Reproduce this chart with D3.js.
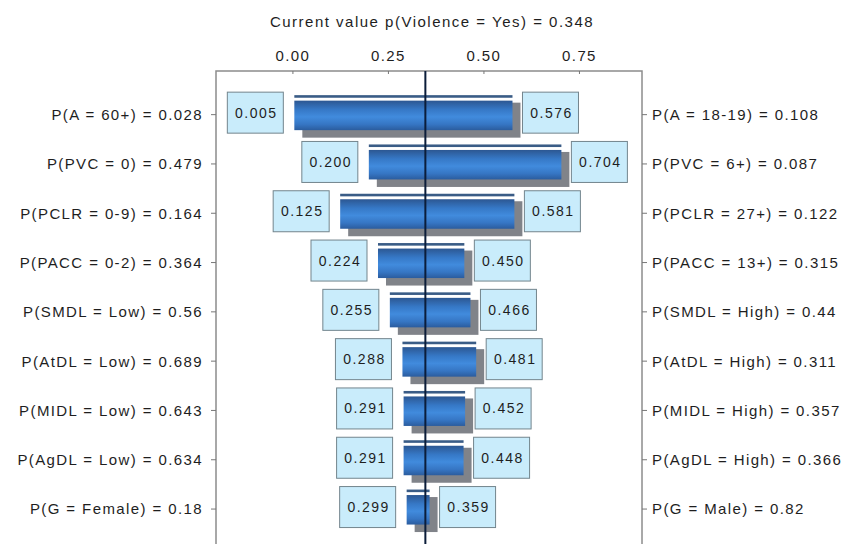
<!DOCTYPE html>
<html>
<head>
<meta charset="utf-8">
<script src="https://cdn.jsdelivr.net/npm/d3@7"></script>
<style>
  body { margin: 0; background: #fff; }
  svg text { font-family: 'Liberation Sans', Arial, sans-serif; fill: #1e1e1e; letter-spacing: 1.4px; }
</style>
</head>
<body>
<div id="chart"></div>
<script>
const currentValue = 0.348;

const lowLabels = [
  'P(A = 60+) = 0.028',
  'P(PVC = 0) = 0.479',
  'P(PCLR = 0-9) = 0.164',
  'P(PACC = 0-2) = 0.364',
  'P(SMDL = Low) = 0.56',
  'P(AtDL = Low) = 0.689',
  'P(MIDL = Low) = 0.643',
  'P(AgDL = Low) = 0.634',
  'P(G = Female) = 0.18'
];

const highLabels = [
  'P(A = 18-19) = 0.108',
  'P(PVC = 6+) = 0.087',
  'P(PCLR = 27+) = 0.122',
  'P(PACC = 13+) = 0.315',
  'P(SMDL = High) = 0.44',
  'P(AtDL = High) = 0.311',
  'P(MIDL = High) = 0.357',
  'P(AgDL = High) = 0.366',
  'P(G = Male) = 0.82'
];

const lowValues = [0.005, 0.200, 0.125, 0.224, 0.255, 0.288, 0.291, 0.291, 0.299];
const highValues = [0.576, 0.704, 0.581, 0.450, 0.466, 0.481, 0.452, 0.448, 0.359];

const tickValues = [0, 0.25, 0.5, 0.75];

const width = 851;
const height = 544;
const frame = { left: 216, right: 642, top: 71 };

const rows = lowValues.map((low, i) => ({
  low,
  high: highValues[i],
  lowLabel: lowLabels[i],
  highLabel: highLabels[i]
}));

const x = d3.scaleLinear()
  .domain([-0.2, 0.915])
  .range([frame.left, frame.right]);

const y = d3.scaleBand()
  .domain(d3.range(rows.length))
  .range([88, 88 + 49.3 * rows.length]);

const svg = d3.select('#chart')
  .append('svg')
  .attr('width', width)
  .attr('height', height);

const defs = svg.append('defs');
const grad = defs.append('linearGradient')
  .attr('id', 'barGrad')
  .attr('x1', 0).attr('y1', 0).attr('x2', 0).attr('y2', 1);
[['0%', '#2c5792'], ['30%', '#3678c6'], ['55%', '#418bdd'], ['80%', '#3676c4'], ['100%', '#2b5c9e']]
  .forEach(([o, c]) => grad.append('stop').attr('offset', o).attr('stop-color', c));

// title
svg.append('text')
  .attr('x', (frame.left + frame.right) / 2 + 3)
  .attr('y', 27)
  .attr('text-anchor', 'middle')
  .style('font-size', '15px')
  .style('letter-spacing', '1.5px')
  .text(`Current value p(Violence = Yes) = ${currentValue.toFixed(3)}`);

// frame
svg.append('rect')
  .attr('x', frame.left)
  .attr('y', frame.top)
  .attr('width', frame.right - frame.left)
  .attr('height', height - frame.top + 20)
  .attr('fill', '#fff')
  .attr('stroke', '#8c8c8c')
  .attr('stroke-width', 1.5);

// top axis
const axis = svg.append('g')
  .attr('transform', `translate(0,${frame.top})`)
  .call(d3.axisTop(x).tickValues(tickValues).tickFormat(d3.format('.2f')).tickSize(-3).tickPadding(10));

axis.select('.domain').remove();
axis.selectAll('line').attr('stroke', '#777');
axis.selectAll('text')
  .style('font-size', '15px')
  .attr('fill', '#1e1e1e')
  .style('font-family', "'Liberation Sans', Arial, sans-serif");

const row = svg.append('g')
  .selectAll('g')
  .data(rows)
  .join('g')
  .attr('transform', (d, i) => `translate(0,${y(i) + y.bandwidth() / 2})`);

// shadow
row.append('rect')
  .attr('x', d => x(d.low) + 8)
  .attr('y', -10)
  .attr('width', d => x(d.high) - x(d.low))
  .attr('height', 35)
  .attr('fill', '#808389');

// top thin line
row.append('rect')
  .attr('x', d => x(d.low))
  .attr('y', -17.5)
  .attr('width', d => x(d.high) - x(d.low))
  .attr('height', 2.6)
  .attr('fill', '#3a5c86');

// main bar
row.append('rect')
  .attr('x', d => x(d.low))
  .attr('y', -12)
  .attr('width', d => x(d.high) - x(d.low))
  .attr('height', 29.5)
  .attr('fill', 'url(#barGrad)');

// value boxes
const boxW = 56;
const boxH = 41;

row.append('rect')
  .attr('x', d => x(d.low) - 11 - boxW)
  .attr('y', -boxH / 2)
  .attr('width', boxW)
  .attr('height', boxH)
  .attr('fill', '#c9ecfb')
  .attr('stroke', '#73858d');

row.append('text')
  .attr('x', d => x(d.low) - 11 - boxW / 2 + 1)
  .attr('dy', '0.36em')
  .attr('text-anchor', 'middle')
  .style('font-size', '14px')
  .style('letter-spacing', '1.5px')
  .text(d => d.low.toFixed(3));

row.append('rect')
  .attr('x', d => x(d.high) + 10)
  .attr('y', -boxH / 2)
  .attr('width', boxW)
  .attr('height', boxH)
  .attr('fill', '#c9ecfb')
  .attr('stroke', '#73858d');

row.append('text')
  .attr('x', d => x(d.high) + 10 + boxW / 2 + 1)
  .attr('dy', '0.36em')
  .attr('text-anchor', 'middle')
  .style('font-size', '14px')
  .style('letter-spacing', '1.5px')
  .text(d => d.high.toFixed(3));

// side labels with ticks
row.append('line')
  .attr('x1', frame.left - 5).attr('x2', frame.left)
  .attr('y1', 2).attr('y2', 2)
  .attr('stroke', '#777');

row.append('line')
  .attr('x1', frame.right).attr('x2', frame.right + 5)
  .attr('y1', 2).attr('y2', 2)
  .attr('stroke', '#777');

row.append('text')
  .attr('x', frame.left - 13)
  .attr('y', 2)
  .attr('dy', '0.36em')
  .attr('text-anchor', 'end')
  .style('font-size', '15px')
  .text(d => d.lowLabel);

row.append('text')
  .attr('x', frame.right + 10)
  .attr('y', 2)
  .attr('dy', '0.36em')
  .style('font-size', '15px')
  .text(d => d.highLabel);

// current value line
svg.append('line')
  .attr('x1', x(currentValue)).attr('x2', x(currentValue))
  .attr('y1', frame.top).attr('y2', height)
  .attr('stroke', '#0b1d3a')
  .attr('stroke-width', 2);
</script>
</body>
</html>
